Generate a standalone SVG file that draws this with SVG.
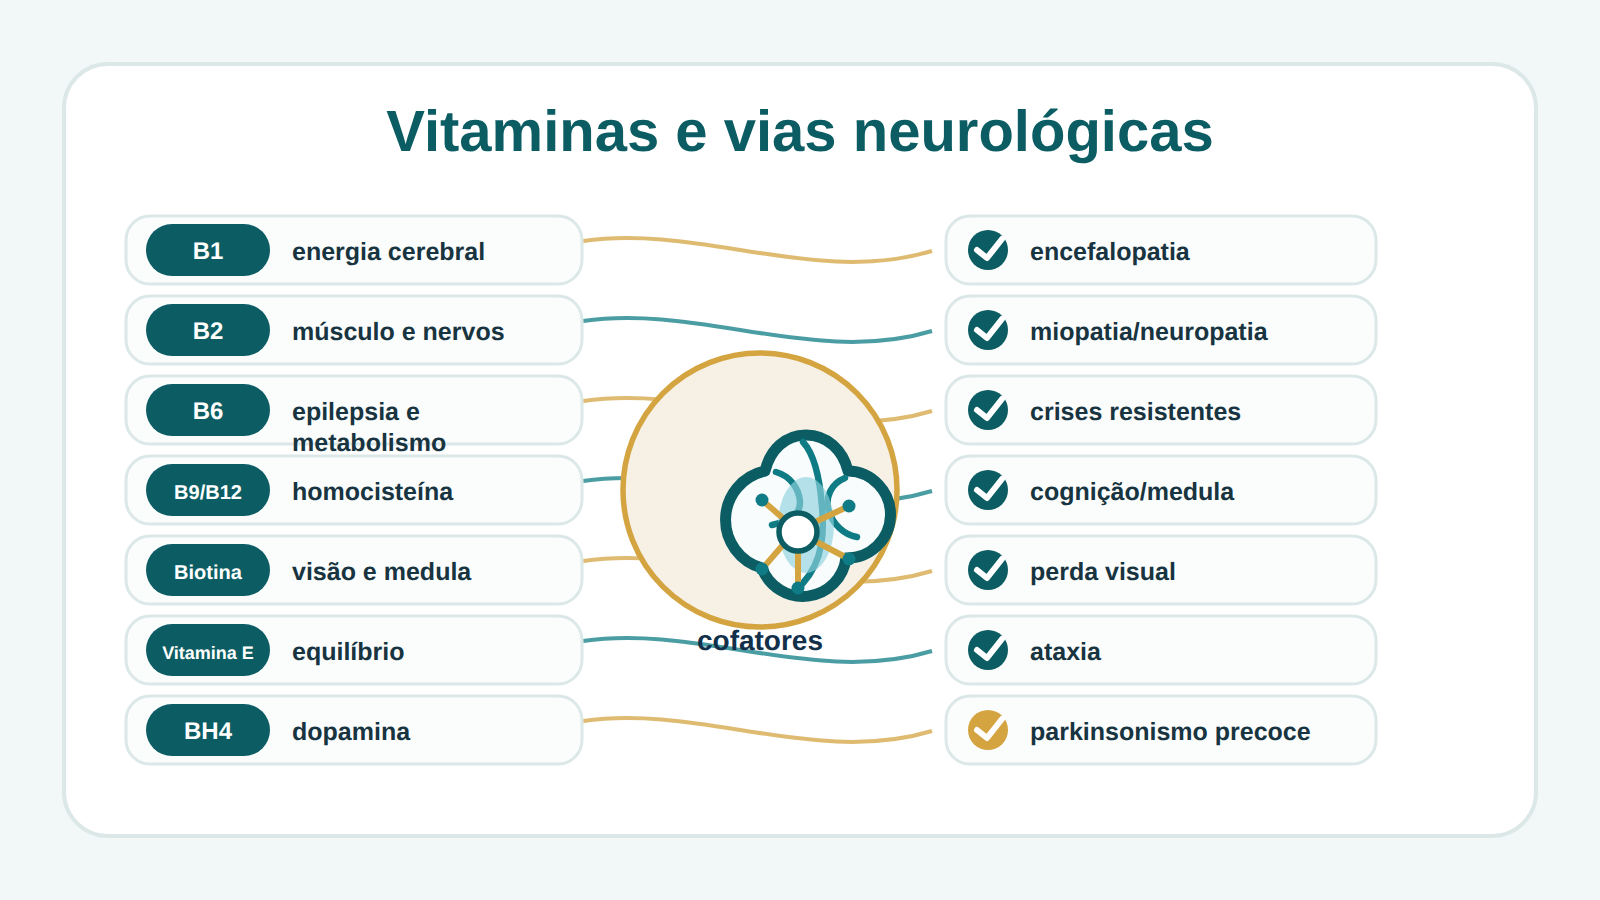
<svg xmlns="http://www.w3.org/2000/svg" width="1600" height="900" viewBox="0 0 1600 900">
<style>
text{font-family:"Liberation Sans",Arial,sans-serif;font-weight:700;text-rendering:geometricPrecision}
.row{fill:#fbfdfd;stroke:#dce8e8;stroke-width:3}
.pill{fill:#0b5d63}
.pt{fill:#fff;text-anchor:middle}
.lab{fill:#183440;font-size:25px}
.c{fill:none;stroke-width:4;stroke-linecap:butt;opacity:.75}
.g{stroke:#d4a441}.t{stroke:#0f7c85}
.ck{fill:none;stroke:#fff;stroke-width:6;stroke-linecap:round;stroke-linejoin:round}
.vein{fill:none;stroke:#0f7c85;stroke-width:6.5;stroke-linecap:round}
.sp{stroke:#d4a441;stroke-width:6;fill:none}
.nd{fill:#0f7c85}
</style>
<rect width="1600" height="900" fill="#f2f7f7"/>
<rect x="64" y="64" width="1472" height="772" rx="44" fill="#fff" stroke="#dce8e8" stroke-width="4"/>
<text id="title" x="800" y="151" font-size="58" fill="#0b5d63" text-anchor="middle">Vitaminas e vias neurológicas</text>
<g id="connectors">
<path class="c g" d="M583 241C700 224 816 286 932 251"/>
<path class="c t" d="M583 321C700 304 816 366 932 331"/>
<path class="c g" d="M583 401C700 384 816 446 932 411"/>
<path class="c t" d="M583 481C700 464 816 526 932 491"/>
<path class="c g" d="M583 561C700 544 816 606 932 571"/>
<path class="c t" d="M583 641C700 624 816 686 932 651"/>
<path class="c g" d="M583 721C700 704 816 766 932 731"/>
</g>
<g id="l1"><rect class="row" x="126" y="216" width="456" height="68" rx="24"/><rect class="pill" x="146" y="224" width="124" height="52" rx="26"/><text class="pt" x="208" y="259" font-size="24">B1</text><text class="lab" x="292" y="260">energia cerebral</text></g>
<g id="l2"><rect class="row" x="126" y="296" width="456" height="68" rx="24"/><rect class="pill" x="146" y="304" width="124" height="52" rx="26"/><text class="pt" x="208" y="339" font-size="24">B2</text><text class="lab" x="292" y="340">músculo e nervos</text></g>
<g id="l3"><rect class="row" x="126" y="376" width="456" height="68" rx="24"/><rect class="pill" x="146" y="384" width="124" height="52" rx="26"/><text class="pt" x="208" y="419" font-size="24">B6</text><text class="lab" x="292" y="420">epilepsia e</text><text class="lab" x="292" y="451">metabolismo</text></g>
<g id="l4"><rect class="row" x="126" y="456" width="456" height="68" rx="24"/><rect class="pill" x="146" y="464" width="124" height="52" rx="26"/><text class="pt" x="208" y="499" font-size="20">B9/B12</text><text class="lab" x="292" y="500">homocisteína</text></g>
<g id="l5"><rect class="row" x="126" y="536" width="456" height="68" rx="24"/><rect class="pill" x="146" y="544" width="124" height="52" rx="26"/><text class="pt" x="208" y="579" font-size="20">Biotina</text><text class="lab" x="292" y="580">visão e medula</text></g>
<g id="l6"><rect class="row" x="126" y="616" width="456" height="68" rx="24"/><rect class="pill" x="146" y="624" width="124" height="52" rx="26"/><text class="pt" x="208" y="659" font-size="18">Vitamina E</text><text class="lab" x="292" y="660">equilíbrio</text></g>
<g id="l7"><rect class="row" x="126" y="696" width="456" height="68" rx="24"/><rect class="pill" x="146" y="704" width="124" height="52" rx="26"/><text class="pt" x="208" y="739" font-size="24">BH4</text><text class="lab" x="292" y="740">dopamina</text></g>
<defs><path id="ck" class="ck" d="M-11 0L-1 8L14 -11"/></defs>
<g id="r1"><rect class="row" x="946" y="216" width="430" height="68" rx="24"/><circle cx="988" cy="250" r="20" fill="#0b5d63"/><use href="#ck" x="988" y="250"/><text class="lab" x="1030" y="260">encefalopatia</text></g>
<g id="r2"><rect class="row" x="946" y="296" width="430" height="68" rx="24"/><circle cx="988" cy="330" r="20" fill="#0b5d63"/><use href="#ck" x="988" y="330"/><text class="lab" x="1030" y="340">miopatia/neuropatia</text></g>
<g id="r3"><rect class="row" x="946" y="376" width="430" height="68" rx="24"/><circle cx="988" cy="410" r="20" fill="#0b5d63"/><use href="#ck" x="988" y="410"/><text class="lab" x="1030" y="420">crises resistentes</text></g>
<g id="r4"><rect class="row" x="946" y="456" width="430" height="68" rx="24"/><circle cx="988" cy="490" r="20" fill="#0b5d63"/><use href="#ck" x="988" y="490"/><text class="lab" x="1030" y="500">cognição/medula</text></g>
<g id="r5"><rect class="row" x="946" y="536" width="430" height="68" rx="24"/><circle cx="988" cy="570" r="20" fill="#0b5d63"/><use href="#ck" x="988" y="570"/><text class="lab" x="1030" y="580">perda visual</text></g>
<g id="r6"><rect class="row" x="946" y="616" width="430" height="68" rx="24"/><circle cx="988" cy="650" r="20" fill="#0b5d63"/><use href="#ck" x="988" y="650"/><text class="lab" x="1030" y="660">ataxia</text></g>
<g id="r7"><rect class="row" x="946" y="696" width="430" height="68" rx="24"/><circle cx="988" cy="730" r="20" fill="#d4a441"/><use href="#ck" x="988" y="730"/><text class="lab" x="1030" y="740">parkinsonismo precoce</text></g>
<g id="hub">
<circle cx="760" cy="490" r="137" fill="#f6f0e5" stroke="#d4a441" stroke-width="5.5"/>
<path d="M765 471C770 450 785 435 806 435C827 435 843 450 848 471A43 43 0 0 1 846 558A43.5 43.5 0 0 1 762 568A50 50 0 0 1 765 471Z" fill="#f8fcfc" stroke="#0b5d63" stroke-width="11" stroke-linejoin="round"/>
<path class="vein" d="M803 442C815 455 820 480 822 507C824 530 824 560 803 583"/>
<path class="vein" d="M776 472C790 476 799 488 800 502C800 515 792 520 772 525"/>
<path class="vein" d="M845 478C830 484 826 498 828 508C832 525 845 535 857 537"/>
<ellipse cx="806" cy="525" rx="28" ry="48" fill="#8fd3df" opacity=".65"/>
<path class="sp" d="M785 520L762 500M813 523L849 506M813 540L849 559M798 550V588M782 546L762 569"/>
<circle cx="798" cy="532" r="19" fill="#fff" stroke="#0b5d63" stroke-width="5.5"/>
<circle class="nd" cx="762" cy="500" r="6.5"/><circle class="nd" cx="849" cy="506" r="6.5"/><circle class="nd" cx="849" cy="559" r="6.5"/><circle class="nd" cx="798" cy="588" r="6.5"/><circle class="nd" cx="762" cy="569" r="6.5"/>
<text x="760" y="650" font-size="28" fill="#12304a" text-anchor="middle">cofatores</text>
</g>
</svg>
